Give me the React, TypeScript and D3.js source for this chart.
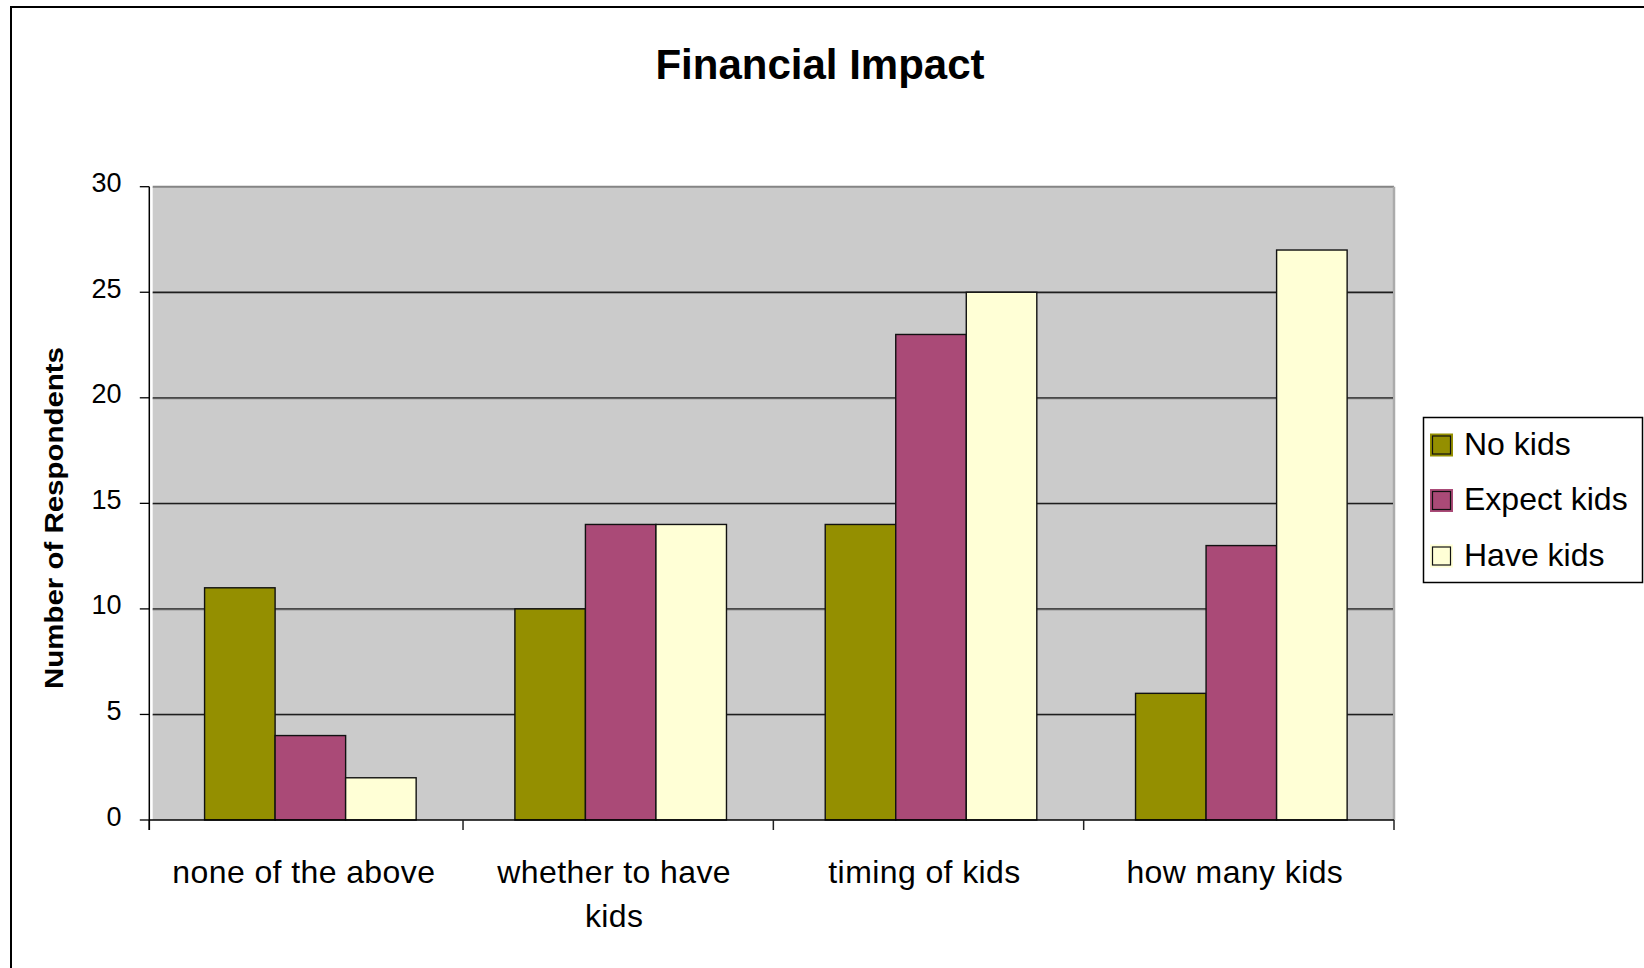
import React from 'react';
import * as d3 from 'd3';

const categories = ['none of the above', 'whether to have kids', 'timing of kids', 'how many kids'];
const categoryLines = [['none of the above'], ['whether to have', 'kids'], ['timing of kids'], ['how many kids']];
const seriesNames = ['No kids', 'Expect kids', 'Have kids'];
const noKids = [11, 10, 14, 6];
const expectKids = [4, 14, 23, 13];
const haveKids = [2, 14, 25, 27];
const yTicks = [0, 5, 10, 15, 20, 25, 30];
const seriesColors = ['#948F00', '#AA4A77', '#FFFFD6'];
const chartTitle = 'Financial Impact';
const yAxisTitle = 'Number of Respondents';

const W = 1644;
const H = 968;
const FONT = "'Liberation Sans', Arial, sans-serif";

export default function App() {
  const plotLeft = 152.7;
  const plotRight = 1394;
  const plotTop = 186.7;
  const plotBottom = 820;
  const axisX = 149.3;
  const barShift = 2.5;

  const seriesValues = [noKids, expectKids, haveKids];

  const y = d3.scaleLinear().domain([0, 30]).range([plotBottom, plotTop]);
  const x0 = d3.scaleBand<string>().domain(categories).range([plotLeft, plotRight]);
  const bw = x0.bandwidth();
  const x1 = d3.scaleBand<string>().domain(seriesNames).range([0, bw]).paddingInner(0).paddingOuter(0.7);

  const boundaries = categories.map((c) => x0(c) as number).concat([plotRight]);

  return (
    <svg
      width={W}
      height={H}
      viewBox={`0 0 ${W} ${H}`}
      style={{ position: 'absolute', left: 0, top: 0, display: 'block', background: '#fff' }}
    >
      {/* outer frame */}
      <rect x={11} y={7} width={W + 50} height={H + 50} fill="#fff" stroke="#000" strokeWidth={2} />

      {/* title */}
      <text x={820} y={79} textAnchor="middle" fontFamily={FONT} fontWeight="bold" fontSize={42} fill="#000">
        {chartTitle}
      </text>

      {/* plot area */}
      <rect x={plotLeft} y={plotTop} width={plotRight - plotLeft} height={plotBottom - plotTop} fill="#CBCBCB" />
      <line x1={plotLeft} x2={plotRight} y1={plotTop} y2={plotTop} stroke="#858585" strokeWidth={2} />
      <line x1={plotRight} x2={plotRight} y1={plotTop} y2={plotBottom} stroke="#ABABAB" strokeWidth={2.5} />

      {/* gridlines */}
      {yTicks.filter((t) => t > 0 && t < 30).map((t) => (
        <g key={`g${t}`}>
          <line x1={plotLeft} x2={plotRight - 1} y1={y(t) + 1} y2={y(t) + 1} stroke="#8a8a8a" strokeWidth={1} />
          <line x1={plotLeft} x2={plotRight - 1} y1={y(t)} y2={y(t)} stroke="#1e1e1e" strokeWidth={1.3} />
        </g>
      ))}

      {/* bars */}
      {categories.map((c, ci) => (
        <g key={c} transform={`translate(${(x0(c) as number) + barShift},0)`}>
          {seriesNames.map((s, si) => {
            const v = seriesValues[si][ci];
            return (
              <rect
                key={s}
                x={x1(s) as number}
                y={y(v)}
                width={x1.bandwidth()}
                height={y(0) - y(v)}
                fill={seriesColors[si]}
                stroke="#111"
                strokeWidth={1.4}
              />
            );
          })}
        </g>
      ))}

      {/* x axis */}
      <line x1={axisX} x2={plotRight} y1={plotBottom} y2={plotBottom} stroke="#000" strokeWidth={1.5} />
      {boundaries.map((b, i) => (
        <line key={`xt${i}`} x1={i === 0 ? axisX : b} x2={i === 0 ? axisX : b} y1={plotBottom} y2={plotBottom + 10} stroke="#222" strokeWidth={1.5} />
      ))}

      {/* y axis */}
      <line x1={axisX} x2={axisX} y1={plotTop} y2={plotBottom + 10} stroke="#000" strokeWidth={1.5} />
      {yTicks.map((t) => (
        <g key={`yt${t}`}>
          <line x1={axisX - 9.5} x2={axisX} y1={y(t)} y2={y(t)} stroke="#000" strokeWidth={1.3} />
          <text x={121.5} y={y(t) + 5.5} textAnchor="end" fontFamily={FONT} fontSize={27} fill="#000">
            {t}
          </text>
        </g>
      ))}

      {/* x labels */}
      {categories.map((c, ci) => (
        <text
          key={`xl${c}`}
          x={(x0(c) as number) + bw / 2 - 4}
          y={883}
          textAnchor="middle"
          fontFamily={FONT}
          fontSize={32}
          letterSpacing={0.4}
          fill="#000"
        >
          {categoryLines[ci].map((line, li) => (
            <tspan key={li} x={(x0(c) as number) + bw / 2 - 4} dy={li === 0 ? 0 : 44}>
              {line}
            </tspan>
          ))}
        </text>
      ))}

      {/* y axis title */}
      <text
        transform="translate(63,518) rotate(-90)"
        textAnchor="middle"
        fontFamily={FONT}
        fontWeight="bold"
        fontSize={26}
        textLength={342}
        lengthAdjust="spacingAndGlyphs"
        fill="#000"
      >
        {yAxisTitle}
      </text>

      {/* legend */}
      <rect x={1423.5} y={417.5} width={219} height={165} fill="#fff" stroke="#000" strokeWidth={1.5} />
      {seriesNames.map((s, si) => {
        const cy = 445 + si * 55.5;
        return (
          <g key={`lg${s}`}>
            <rect x={1430} y={cy - 11.5} width={23} height={23} fill={seriesColors[si]} />
            <rect x={1432.5} y={cy - 9} width={18} height={18} fill={seriesColors[si]} stroke="#111" strokeWidth={1.2} />
            <text x={1464} y={cy + 9.5} fontFamily={FONT} fontSize={32} fill="#000">
              {s}
            </text>
          </g>
        );
      })}
    </svg>
  );
}
